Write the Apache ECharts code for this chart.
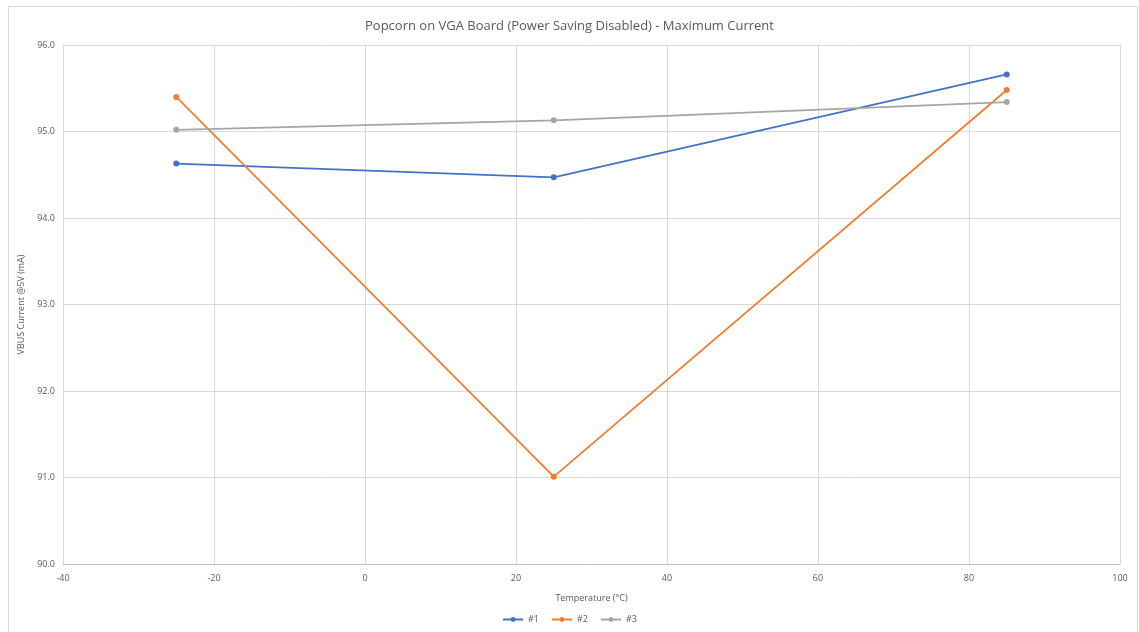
<!DOCTYPE html>
<html>
<head>
<meta charset="utf-8">
<script src="https://cdn.jsdelivr.net/npm/echarts@6/dist/echarts.min.js"></script>
<style>html,body{margin:0;padding:0;background:#fff;}#c{width:1139px;height:632px;}</style>
</head>
<body>
<div id="c"></div>
<script>
const temperatures = [-25, 25, 85];
const series1 = [94.63, 94.47, 95.66];
const series2 = [95.40, 91.01, 95.48];
const series3 = [95.02, 95.13, 95.34];
const seriesNames = ['#1', '#2', '#3'];
const colors = ['#4472C4', '#ED7D31', '#A5A5A5'];

const chart = echarts.init(document.getElementById('c'), null, {renderer: 'canvas'});
const fontFamily = '"Open Sans", "Noto Sans", sans-serif';
const mk = (name, vals, color) => ({
  name: name,
  type: 'line',
  data: temperatures.map((t, i) => [t, vals[i]]),
  symbol: 'circle',
  symbolSize: 6,
  lineStyle: {color: color, width: 1.75},
  itemStyle: {color: color},
  animation: false
});
chart.setOption({
  animation: false,
  graphic: [{
    type: 'rect',
    shape: {x: 8.5, y: 6.5, width: 1129, height: 640},
    style: {fill: 'none', stroke: '#d9d9d9', lineWidth: 1},
    silent: true
  }],
  title: {
    text: 'Popcorn on VGA Board (Power Saving Disabled) - Maximum Current',
    left: 'center',
    top: 15,
    textStyle: {fontSize: 13, fontWeight: 'normal', color: '#595959', fontFamily: fontFamily}
  },
  legend: {
    data: seriesNames,
    bottom: 3,
    left: 'center',
    itemWidth: 20,
    itemHeight: 6,
    itemGap: 12,
    textStyle: {fontSize: 9, color: '#595959', fontFamily: fontFamily}
  },
  grid: {left: 63, right: 19, top: 45, bottom: 68, containLabel: false},
  xAxis: {
    type: 'value',
    min: -40, max: 100, interval: 20,
    name: 'Temperature (°C)',
    nameLocation: 'middle',
    nameGap: 30,
    nameTextStyle: {fontSize: 9, color: '#595959', fontFamily: fontFamily},
    axisLine: {show: true, lineStyle: {color: '#bfbfbf'}},
    axisTick: {show: false},
    axisLabel: {fontSize: 9, color: '#595959', fontFamily: fontFamily, margin: 10},
    splitLine: {show: true, lineStyle: {color: '#d9d9d9'}}
  },
  yAxis: {
    type: 'value',
    min: 90, max: 96, interval: 1,
    name: 'VBUS Current @5V (mA)',
    nameLocation: 'middle',
    nameGap: 36,
    nameTextStyle: {fontSize: 9, color: '#595959', fontFamily: fontFamily},
    axisLine: {show: false},
    axisTick: {show: false},
    axisLabel: {fontSize: 9, color: '#595959', fontFamily: fontFamily, formatter: v => v.toFixed(1), margin: 8},
    splitLine: {show: true, lineStyle: {color: '#d9d9d9'}}
  },
  series: [
    mk(seriesNames[0], series1, colors[0]),
    mk(seriesNames[1], series2, colors[1]),
    mk(seriesNames[2], series3, colors[2])
  ]
});
</script>
</body>
</html>
